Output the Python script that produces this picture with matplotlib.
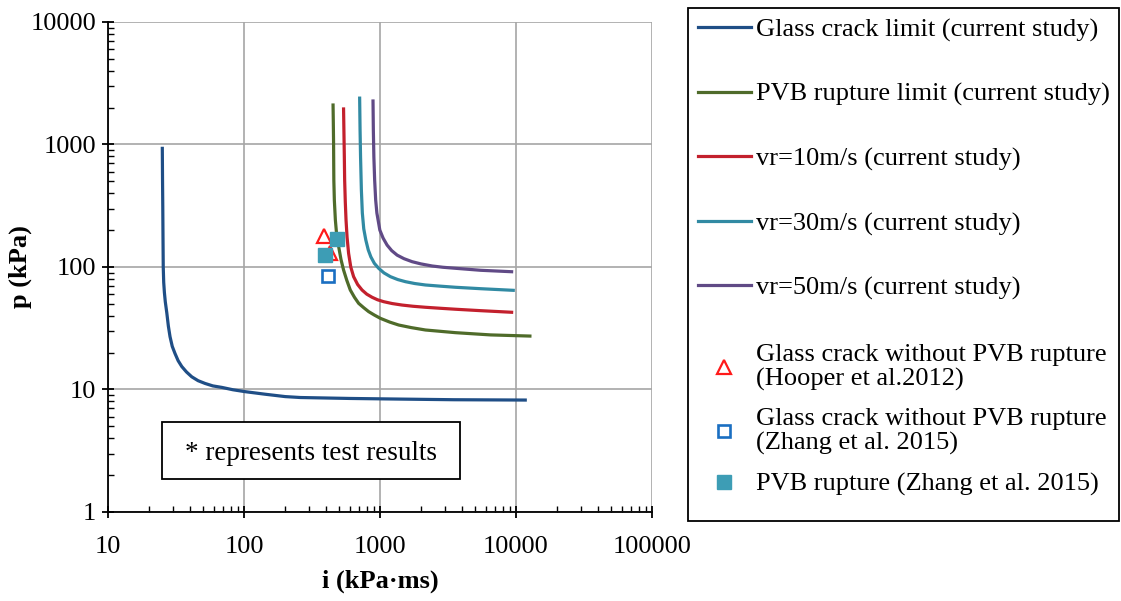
import matplotlib
matplotlib.use("Agg")
import matplotlib.pyplot as plt
from matplotlib.patches import Rectangle

plt.rcParams['font.family'] = ['Liberation Serif', 'DejaVu Serif']
plt.rcParams['font.size'] = 19

# curves (i in kPa.ms, p in kPa)
glass_i = [25.1, 25.2, 25.3, 25.4, 25.5, 25.7, 26.0, 26.4, 27.1, 27.8, 28.6, 29.7, 31.1, 32.8,
           34.9, 37.8, 41.3, 46, 51.8, 59, 68.8, 83, 102, 143, 201, 260, 600, 1400, 3500, 11700]
glass_p = [930, 500, 310, 170, 100, 75, 62, 52, 42, 33, 27, 22.5, 19.7, 17.2,
           15.4, 13.9, 12.7, 11.8, 11.2, 10.7, 10.4, 9.95, 9.6, 9.15, 8.75, 8.6, 8.45, 8.35, 8.25, 8.2]

pvb_i = [452, 454, 456, 457, 458, 462, 470, 480, 497, 517, 540, 570, 605, 650, 697, 760,
         826, 910, 1007, 1180, 1373, 1700, 2160, 3590, 6500, 12660]
pvb_p = [2100, 1500, 1020, 700, 510, 350, 242, 185, 146.5, 115, 94.5, 78, 64.9, 56.5, 50.5, 46.5,
         43.2, 40.5, 38.1, 35.5, 33.6, 32, 30.6, 29.1, 27.9, 27.3]

vr10_i = [540, 547, 550, 556, 563, 573, 588, 610, 640, 685, 738, 800, 875, 960, 1065, 1230,
          1454, 1750, 2160, 2800, 3590, 5500, 9290]
vr10_p = [1950, 795, 513, 340, 242, 175, 129.4, 100, 83.4, 72, 64.9, 60, 56.6, 54, 52.1, 50.3,
          48.9, 47.8, 46.9, 46, 45.2, 44, 42.7]

vr30_i = [709, 714, 720, 730, 742, 760, 787, 820, 857, 910, 978, 1070, 1193, 1350, 1538, 1800,
          2160, 2800, 3590, 5500, 9550]
vr30_p = [2390, 1313, 791, 425, 276, 205, 166, 138, 121, 107, 97.6, 89.5, 83.4, 79, 75.9, 73.3,
          71.3, 69.7, 68.3, 66.5, 64.5]

vr50_i = [889, 894, 902, 914, 930, 949, 998, 1055, 1128, 1220, 1337, 1500, 1723, 2000,
          2420, 2900, 3590, 5500, 9290]
vr50_p = [2265, 1313, 791, 513, 352, 276, 200, 172, 151, 136, 125, 117, 110.5, 106,
          101.9, 99.5, 97.6, 94, 91.5]

# test results
hooper_i = [385, 426]
hooper_p = [179, 129]
zhang_crack_i = [415]
zhang_crack_p = [84.5]
zhang_rupture_i = [483, 396]
zhang_rupture_p = [168, 125]

x_ticks = [10, 100, 1000, 10000, 100000]
x_labels = ["10", "100", "1000", "10000", "100000"]
y_ticks = [1, 10, 100, 1000, 10000]
y_labels = ["1", "10", "100", "1000", "10000"]

labels = ["Glass crack limit (current study)",
          "PVB rupture limit (current study)",
          "vr=10m/s (current study)",
          "vr=30m/s (current study)",
          "vr=50m/s (current study)",
          "Glass crack without PVB rupture\n(Hooper et al.2012)",
          "Glass crack without PVB rupture\n(Zhang et al. 2015)",
          "PVB rupture (Zhang et al. 2015)"]

c_blue = "#1f4e86"
c_green = "#4f6b2a"
c_red = "#c3202d"
c_teal = "#318aa3"
c_purple = "#604a86"

fig = plt.figure(figsize=(11.21, 6.01), dpi=100)
ax = fig.add_axes([0.0963, 0.1481, 0.4853, 0.8153])

lw = 2.3
l1, = ax.plot(glass_i, glass_p, color=c_blue, lw=lw, solid_joinstyle="round")
l2, = ax.plot(pvb_i, pvb_p, color=c_green, lw=lw, solid_joinstyle="round")
l3, = ax.plot(vr10_i, vr10_p, color=c_red, lw=lw, solid_joinstyle="round")
l4, = ax.plot(vr30_i, vr30_p, color=c_teal, lw=lw, solid_joinstyle="round")
l5, = ax.plot(vr50_i, vr50_p, color=c_purple, lw=lw, solid_joinstyle="round")

m1, = ax.plot(hooper_i, hooper_p, ls="none", marker="^", ms=10, mfc="white",
              mec="#ff1a1a", mew=1.6, zorder=4)
m2, = ax.plot(zhang_crack_i, zhang_crack_p, ls="none", marker="s", ms=8.5, mfc="white",
              mec="#1a6fc2", mew=1.9, zorder=4)
m3, = ax.plot(zhang_rupture_i, zhang_rupture_p, ls="none", marker="s", ms=10,
              color="#3d9db5", zorder=5)

ax.set_xscale("log")
ax.set_yscale("log")
ax.set_xlim(10, 100000)
ax.set_ylim(1, 10000)
ax.set_xticks(x_ticks, x_labels)
ax.set_yticks(y_ticks, y_labels)

ax.grid(True, which="major", color="#a6a6a6", lw=1.2)
ax.set_axisbelow(True)
for s in ["top", "right"]:
    ax.spines[s].set_visible(False)
for s in ["left", "bottom"]:
    ax.spines[s].set_linewidth(1.3)
ax.tick_params(which="major", direction="inout", length=9, width=1.3, pad=4)
ax.tick_params(axis="x", which="major", pad=12.5)
ax.tick_params(which="minor", direction="in", length=4, width=1.0)

ax.set_xlabel("i (kPa\u00b7ms)", fontweight="bold", labelpad=8.5)
ax.set_ylabel("p (kPa)", fontweight="bold", labelpad=-1)

# note box
fig.add_artist(Rectangle((0.1445, 0.203), 0.2658, 0.0948, transform=fig.transFigure,
                         facecolor="white", edgecolor="black", lw=1.3))
fig.text(0.2774, 0.2446, "* represents test results", ha="center", va="center", fontsize=19.5)

# legend frame and entries
fig.add_artist(Rectangle((0.6137, 0.1331), 0.3845, 0.8536, transform=fig.transFigure,
                         facecolor="none", edgecolor="black", lw=1.3))
leg1 = fig.legend([l1, l2, l3, l4, l5], labels[:5], loc="upper left",
                  bbox_to_anchor=(0.6226, 0.970), frameon=False, borderpad=0,
                  borderaxespad=0, labelspacing=1.54, handlelength=2.0,
                  handletextpad=0.2, fontsize=19)
leg2 = fig.legend([m1, m2, m3], labels[5:], loc="upper left",
                  bbox_to_anchor=(0.6226, 0.4276), frameon=False, borderpad=0,
                  borderaxespad=0, labelspacing=0.66, handlelength=2.0,
                  handletextpad=0.2, fontsize=19)
for t in leg2.get_texts():
    t.set_linespacing(1.1)

fig.savefig("out.png", dpi=100)
